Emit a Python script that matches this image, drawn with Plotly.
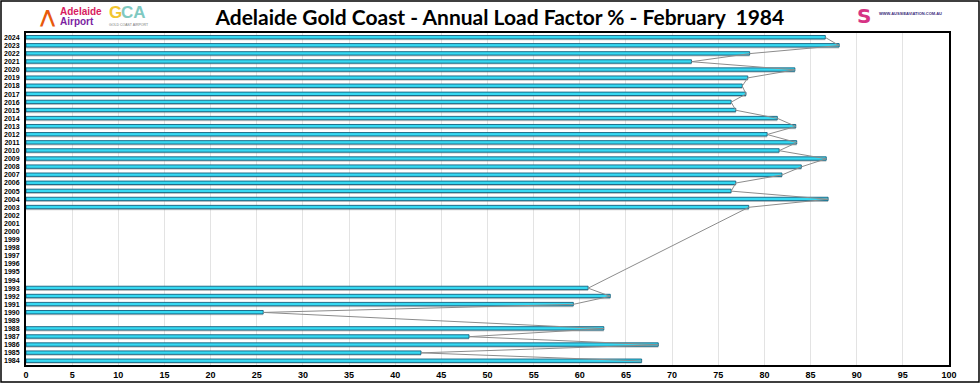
import plotly.graph_objects as go

years = list(range(1984, 2025))
load_factor = {
    1984: 66.7, 1985: 42.8, 1986: 68.5, 1987: 48.0, 1988: 62.6,
    1990: 25.7, 1991: 59.3, 1992: 63.3, 1993: 60.9,
    2003: 78.3, 2004: 86.9, 2005: 76.4, 2006: 76.9, 2007: 81.9, 2008: 84.0,
    2009: 86.7, 2010: 81.6, 2011: 83.5, 2012: 80.3, 2013: 83.4, 2014: 81.4,
    2015: 76.9, 2016: 76.4, 2017: 78.0, 2018: 77.6, 2019: 78.2, 2020: 83.3,
    2021: 72.1, 2022: 78.4, 2023: 88.1, 2024: 86.6,
}
bar_years = sorted(load_factor)
bar_values = [load_factor[y] for y in bar_years]
x_ticks = list(range(0, 101, 5))
title_text = "Adelaide Gold Coast - Annual Load Factor % - February  1984"

fig = go.Figure()

# connecting line through bar ends
fig.add_trace(go.Scatter(x=bar_values, y=bar_years, mode="lines",
                         line=dict(color="#8c8c8c", width=1), hoverinfo="skip",
                         showlegend=False))
# shadow
fig.add_trace(go.Bar(x=bar_values, y=bar_years, orientation="h", width=0.45, offset=-0.36,
                     marker=dict(color="rgba(120,120,120,0.4)", line=dict(width=0)),
                     showlegend=False, hoverinfo="skip"))
# main bar
fig.add_trace(go.Bar(x=bar_values, y=bar_years, orientation="h", width=0.42, offset=-0.18,
                     marker=dict(color="#36d9f2", line=dict(color="#12607e", width=0.9)),
                     showlegend=False))

L, R, T, B = 26, 31, 33, 18
W, H = 980, 383
pw, ph = W - L - R, H - T - B

def px_x(p):
    return (p - L) / pw

def px_y(p):
    return (H - B - p) / ph

fig.update_layout(
    width=W, height=H,
    margin=dict(l=L, r=R, t=T, b=B),
    paper_bgcolor="white", plot_bgcolor="white",
    barmode="overlay",
    title=dict(text=title_text, x=0.51, xanchor="center", y=0.955, yanchor="middle",
               font=dict(family="Lato", size=21, color="black", weight="bold")),
    xaxis=dict(range=[0, 100], tickvals=x_ticks, showgrid=True, gridcolor="#e3e3e3",
               gridwidth=1, zeroline=False, showline=True, linecolor="black", linewidth=2,
               mirror=True, ticks="", automargin=False,
               tickfont=dict(family="Liberation Sans", size=9, color="black", weight="bold")),
    yaxis=dict(range=[1983.5, 2024.55], tickvals=years, ticktext=[str(y) for y in years],
               showgrid=False, zeroline=False, showline=True, linecolor="black", linewidth=2,
               mirror=True, ticks="", automargin=False, ticklabelstandoff=3,
               tickfont=dict(family="Liberation Sans", size=7, color="black", weight="bold")),
    shapes=[dict(type="rect", xref="paper", yref="paper",
                 x0=px_x(1), x1=px_x(979), y0=px_y(382), y1=px_y(1),
                 line=dict(color="black", width=1.5), layer="below")],
)

ann = []
ann.append(dict(text="<b>Adelaide</b>", x=px_x(58), y=px_y(11), xref="paper", yref="paper",
                showarrow=False, xanchor="left", yanchor="middle",
                font=dict(family="Liberation Sans", size=10, color="#d81b60")))
ann.append(dict(text="<b>Airport</b>", x=px_x(58), y=px_y(21), xref="paper", yref="paper",
                showarrow=False, xanchor="left", yanchor="middle",
                font=dict(family="Liberation Sans", size=10, color="#7b1fa2")))
ann.append(dict(text="<b>⋀</b>", x=px_x(38), y=px_y(16), xref="paper", yref="paper",
                showarrow=False, xanchor="left", yanchor="middle",
                font=dict(family="DejaVu Sans", size=18, color="#e8590c")))
ann.append(dict(text="<b>G</b>", x=px_x(107), y=px_y(13), xref="paper", yref="paper",
                showarrow=False, xanchor="left", yanchor="middle",
                font=dict(family="Liberation Sans", size=17, color="#f2c530")))
ann.append(dict(text="<b>CA</b>", x=px_x(119), y=px_y(13), xref="paper", yref="paper",
                showarrow=False, xanchor="left", yanchor="middle",
                font=dict(family="Liberation Sans", size=17, color="#7fc9c1")))
ann.append(dict(text="GOLD COAST AIRPORT", x=px_x(107), y=px_y(25), xref="paper", yref="paper",
                showarrow=False, xanchor="left", yanchor="middle",
                font=dict(family="Liberation Sans", size=3.5, color="#777")))
ann.append(dict(text="<b>S</b>", x=px_x(855), y=px_y(16), xref="paper", yref="paper",
                showarrow=False, xanchor="left", yanchor="middle",
                font=dict(family="DejaVu Sans", size=20, color="#d63384")))
ann.append(dict(text="<b>WWW.AUSSIEAVIATION.COM.AU</b>", x=px_x(877), y=px_y(14),
                xref="paper", yref="paper", showarrow=False, xanchor="left", yanchor="middle",
                font=dict(family="Liberation Sans", size=4, color="#3a2a7a")))
fig.update_layout(annotations=ann)

fig.write_html("out.html", config={"displayModeBar": False},
               post_script="document.body.style.margin='0';document.body.style.overflow='hidden';")
